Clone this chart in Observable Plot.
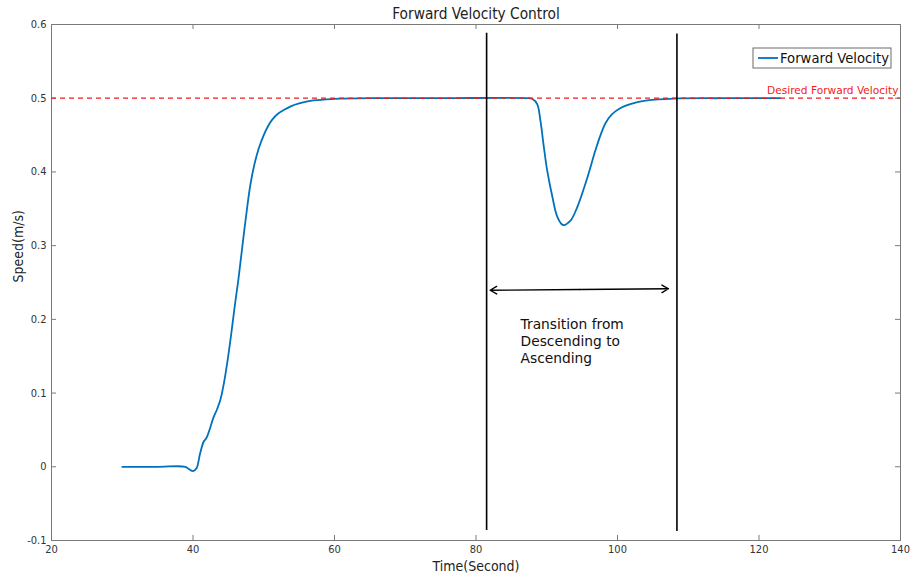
<!DOCTYPE html>
<html>
<head>
<meta charset="utf-8">
<script src="https://cdn.jsdelivr.net/npm/d3@7"></script>
<script src="https://cdn.jsdelivr.net/npm/@observablehq/plot@0.6"></script>
<style>
  html, body { margin: 0; padding: 0; background: #fff; }
  #chart svg { display: block; }
</style>
</head>
<body>
<div id="chart"></div>
<script>
// ---- data ----
const time = [30, 35, 38.9, 39.4, 40.0, 40.5, 41.0, 41.5, 41.9, 42.4, 42.9, 43.4, 43.9, 44.4, 44.9,
  45.4, 45.9, 46.4, 46.9, 47.5, 48.1, 48.7, 49.3, 50.0, 50.6, 51.2, 52.0, 53.0, 53.8, 55.0, 57.0,
  60, 65, 75, 87.5, 88.0, 88.65, 89.1, 89.6, 90.06, 90.8, 91.5, 92.3, 93.35, 94.3, 95.6, 96.9,
  97.6, 98.3, 99.2, 100.5, 101.8, 104.2, 108, 115, 123];
const speed = [0, 0, 0, -0.003, -0.006, -0.002, 0.018, 0.034, 0.039, 0.052, 0.067, 0.078, 0.092, 0.115, 0.145,
  0.180, 0.218, 0.253, 0.293, 0.340, 0.382, 0.411, 0.432, 0.450, 0.462, 0.471, 0.479, 0.485, 0.489, 0.493, 0.497,
  0.499, 0.5, 0.5, 0.5, 0.499, 0.492, 0.470, 0.433, 0.402, 0.366, 0.339, 0.328, 0.334, 0.352, 0.388, 0.430,
  0.450, 0.466, 0.478, 0.487, 0.492, 0.497, 0.4995, 0.5, 0.5];

const desiredSpeed = [0.5];
const desiredLabel = "Desired Forward Velocity";

const markerX = [81.5, 108.4];
const markerTop = [0.588, 0.587];
const markerBottom = [-0.0864, -0.0877];

const arrowLeft = [82.0, 0.2395];
const arrowRight = [107.2, 0.2415];
const annotation = "Transition from\nDescending to\nAscending";
const annotationPos = [86.3, 0.171];

const xTicks = [20, 40, 60, 80, 100, 120, 140];
const xTickLabels = ["20", "40", "60", "80", "100", "120", "140"];
const yTicks = [-0.1, 0, 0.1, 0.2, 0.3, 0.4, 0.5, 0.6];
const yTickLabels = ["-0.1", "0", "0.1", "0.2", "0.3", "0.4", "0.5", "0.6"];

const title = "Forward Velocity Control";
const xLabel = "Time(Second)";
const yLabel = "Speed(m/s)";
const seriesName = "Forward Velocity";

// ---- chart ----
const W = 913, H = 576;
const mL = 51, mR = 13, mT = 24, mB = 36;
const xDomain = [20, 140], yDomain = [-0.1, 0.6];
const tickPx = 5;
const tx = tickPx * (xDomain[1] - xDomain[0]) / (W - mL - mR);
const ty = tickPx * (yDomain[1] - yDomain[0]) / (H - mT - mB);

const blue = "#0072BD";
const red = "#f21c1c";
const axisGray = "#7a7a7a";
const condensed = "'DejaVu Sans Condensed', 'Liberation Sans Narrow', sans-serif";
const regular = "'DejaVu Sans', sans-serif";

const curve = time.map((t, i) => ({t, v: speed[i]}));
const markers = markerX.map((x, i) => ({x, y1: markerTop[i], y2: markerBottom[i]}));
const mid = [(arrowLeft[0] + arrowRight[0]) / 2, (arrowLeft[1] + arrowRight[1]) / 2];

const chart = Plot.plot({
  width: W, height: H,
  marginLeft: mL, marginRight: mR, marginTop: mT, marginBottom: mB,
  x: {domain: xDomain},
  y: {domain: yDomain},
  style: {fontFamily: condensed, background: "#fff"},
  marks: [
    Plot.frame({stroke: axisGray, strokeWidth: 1}),
    // inward ticks
    Plot.ruleX(xTicks, {x: d => d, y1: yDomain[0], y2: yDomain[0] + ty, stroke: axisGray}),
    Plot.ruleX(xTicks, {x: d => d, y1: yDomain[1], y2: yDomain[1] - ty, stroke: axisGray}),
    Plot.ruleY(yTicks, {y: d => d, x1: xDomain[0], x2: xDomain[0] + tx, stroke: axisGray}),
    Plot.ruleY(yTicks, {y: d => d, x1: xDomain[1], x2: xDomain[1] - tx, stroke: axisGray}),
    Plot.axisX(xTicks, {tickSize: 0, tickPadding: 5, fontSize: 11, fill: "#333",
      tickFormat: d => xTickLabels[xTicks.indexOf(d)], label: null}),
    Plot.axisY(yTicks, {tickSize: 0, tickPadding: 5, fontSize: 11, fill: "#333",
      tickFormat: d => yTickLabels[yTicks.indexOf(d)], label: null}),
    // series
    Plot.line(curve, {x: "t", y: "v", stroke: blue, strokeWidth: 1.8, curve: "catmull-rom"}),
    Plot.ruleY(desiredSpeed, {stroke: red, strokeWidth: 1.2, strokeDasharray: "5,4"}),
    Plot.text([desiredLabel], {x: xDomain[1], y: desiredSpeed[0], text: d => d, textAnchor: "end",
      dx: -2, dy: -8, fill: red, fontSize: 10.6, fontFamily: regular}),
    // transition markers
    Plot.ruleX(markers, {x: "x", y1: "y1", y2: "y2", stroke: "#000", strokeWidth: 1.6}),
    Plot.arrow([0], {x1: mid[0], y1: mid[1], x2: arrowLeft[0], y2: arrowLeft[1], stroke: "#000",
      strokeWidth: 1.4, headLength: 8, bend: 0}),
    Plot.arrow([0], {x1: mid[0], y1: mid[1], x2: arrowRight[0], y2: arrowRight[1], stroke: "#000",
      strokeWidth: 1.4, headLength: 8, bend: 0}),
    Plot.text([annotation], {x: annotationPos[0], y: annotationPos[1], text: d => d, textAnchor: "start",
      lineAnchor: "middle", lineHeight: 1.2, fontSize: 13.8, fill: "#111", fontFamily: regular}),
    // titles
    Plot.text([title], {frameAnchor: "top", dy: -10, text: d => d, fontSize: 15.3, fill: "#222", lineAnchor: "middle"}),
    Plot.text([xLabel], {frameAnchor: "bottom", dy: 26, text: d => d, fontSize: 14, fill: "#222", lineAnchor: "middle"}),
    Plot.text([yLabel], {frameAnchor: "left", dx: -33, rotate: -90, text: d => d, fontSize: 14, fill: "#222", lineAnchor: "middle"})
  ]
});

// legend box (top-right, inside frame)
const svg = d3.select(chart);
const boxR = W - mR - 9, boxT = mT + 24, boxW = 138, boxH = 20;
const lg = svg.append("g");
lg.append("rect").attr("x", boxR - boxW).attr("y", boxT).attr("width", boxW).attr("height", boxH)
  .attr("fill", "#fff").attr("stroke", "#6b6b6b").attr("stroke-width", 1);
lg.append("line").attr("x1", boxR - boxW + 5).attr("x2", boxR - boxW + 25)
  .attr("y1", boxT + boxH / 2).attr("y2", boxT + boxH / 2).attr("stroke", blue).attr("stroke-width", 1.8);
lg.append("text").attr("x", boxR - boxW + 27).attr("y", boxT + boxH / 2).attr("dy", "0.35em")
  .attr("text-anchor", "start")
  .attr("font-size", 13.2).attr("font-family", regular)
  .attr("fill", "#111").text(seriesName);

document.getElementById("chart").appendChild(chart);
</script>
</body>
</html>
